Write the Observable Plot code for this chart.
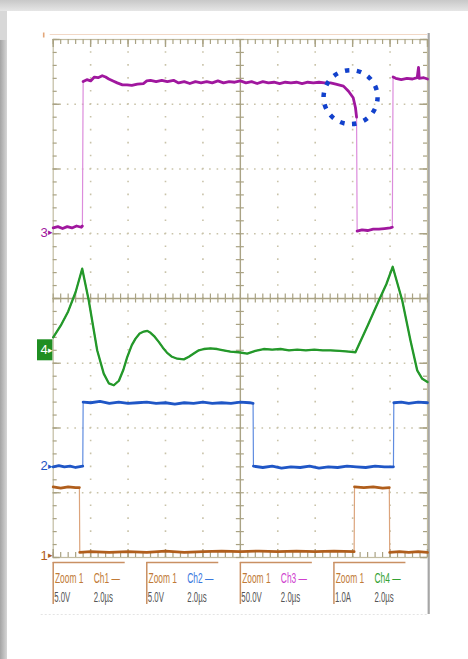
<!DOCTYPE html>
<html><head><meta charset="utf-8">
<script src="https://cdn.jsdelivr.net/npm/d3@7"></script>
<script src="https://cdn.jsdelivr.net/npm/@observablehq/plot@0.6"></script>
<style>
html,body{margin:0;padding:0;background:#fff;}
#wrap{position:relative;width:468px;height:659px;overflow:hidden;background:#fff;}
.bg{position:absolute;}
#chart{position:absolute;left:0;top:0;}
</style></head><body>
<div id="wrap">
<div class="bg" style="left:0;top:0;width:468px;height:11px;background:linear-gradient(#c8c8c8,#e6e6e6)"></div>
<div class="bg" style="left:0;top:11px;width:7px;height:29px;background:#d8d8d8"></div>
<div class="bg" style="left:0;top:40px;width:7px;height:619px;background:linear-gradient(to right,#a4a4a4,#d6d6d6)"></div>
<div id="chart"></div>
</div>
<script>
// ---- data (time in µs, 2.0 µs/div; vertical in screen divisions) ----
const ch1 = [[0,-2.91],[0.4,-2.93],[0.8,-2.91],[1.2,-2.92],[1.40,-2.92],[1.42,-3.92],[2.0,-3.91],[3.0,-3.92],[4.0,-3.91],[5.0,-3.92],[6.0,-3.90],[7.0,-3.92],[8.0,-3.91],[9.0,-3.90],[10.0,-3.91],[11.0,-3.90],[12.0,-3.91],[13.0,-3.90],[14.0,-3.91],[15.0,-3.90],[16.08,-3.91],[16.10,-2.91],[16.6,-2.92],[17.1,-2.91],[17.6,-2.93],[17.96,-2.92],[17.98,-3.92],[18.5,-3.91],[19.0,-3.92],[19.5,-3.91],[20,-3.92]];
const ch2 = [[0,-2.60],[0.3,-2.58],[0.6,-2.60],[0.9,-2.59],[1.2,-2.61],[1.58,-2.59],[1.60,-1.60],[2.0,-1.61],[2.5,-1.59],[3.0,-1.62],[3.5,-1.60],[4.0,-1.62],[4.5,-1.61],[5.0,-1.60],[5.5,-1.62],[6.0,-1.61],[6.5,-1.63],[7.0,-1.61],[7.5,-1.62],[8.0,-1.60],[8.5,-1.62],[9.0,-1.61],[9.5,-1.62],[10.0,-1.60],[10.5,-1.61],[10.68,-1.62],[10.70,-2.59],[11.2,-2.61],[11.7,-2.59],[12.2,-2.62],[12.7,-2.60],[13.2,-2.61],[13.7,-2.59],[14.2,-2.62],[14.7,-2.60],[15.2,-2.61],[15.7,-2.59],[16.2,-2.60],[16.7,-2.61],[17.2,-2.59],[17.7,-2.60],[18.18,-2.60],[18.20,-1.61],[18.6,-1.60],[19.0,-1.62],[19.5,-1.60],[20,-1.61]];
const ch3 = [[0,1.09],[0.25,1.11],[0.5,1.08],[0.75,1.11],[1.0,1.09],[1.25,1.12],[1.5,1.10],[1.56,1.12],[1.6,3.35],[1.8,3.38],[2.0,3.36],[2.2,3.42],[2.4,3.41],[2.62,3.44],[2.8,3.42],[2.97,3.39],[3.2,3.36],[3.42,3.33],[3.7,3.30],[3.95,3.30],[4.2,3.29],[4.5,3.31],[4.82,3.32],[5.0,3.36],[5.2,3.37],[5.5,3.35],[5.8,3.37],[6.1,3.35],[6.43,3.37],[6.7,3.33],[7.0,3.35],[7.3,3.32],[7.6,3.35],[7.9,3.33],[8.2,3.35],[8.5,3.33],[8.8,3.36],[9.1,3.33],[9.4,3.35],[9.7,3.34],[10.0,3.36],[10.3,3.33],[10.6,3.35],[10.9,3.32],[11.2,3.35],[11.5,3.33],[11.8,3.34],[12.1,3.32],[12.4,3.34],[12.7,3.33],[13.0,3.34],[13.3,3.32],[13.6,3.34],[13.9,3.33],[14.2,3.34],[14.5,3.33],[14.82,3.33],[15.1,3.31],[15.51,3.28],[15.78,3.20],[16.03,3.10],[16.15,2.95],[16.21,2.80],[16.24,1.04],[16.5,1.06],[16.8,1.05],[17.1,1.07],[17.4,1.07],[17.7,1.08],[18.0,1.09],[18.12,1.10],[18.16,3.42],[18.3,3.40],[18.6,3.38],[18.9,3.40],[19.2,3.39],[19.45,3.41],[19.52,3.57],[19.56,3.40],[19.8,3.41],[20,3.39]];
const ch4 = [[0,-0.60],[0.4,-0.42],[0.8,-0.20],[1.2,0.10],[1.55,0.46],[1.90,-0.03],[2.35,-0.80],[2.70,-1.16],[2.97,-1.31],[3.24,-1.34],[3.51,-1.27],[3.75,-1.10],[3.95,-0.91],[4.2,-0.72],[4.40,-0.62],[4.62,-0.54],[4.84,-0.51],[5.03,-0.50],[5.20,-0.53],[5.42,-0.59],[5.64,-0.67],[5.86,-0.76],[6.09,-0.84],[6.35,-0.90],[6.63,-0.93],[6.98,-0.94],[7.25,-0.90],[7.51,-0.85],[7.78,-0.80],[8.05,-0.78],[8.4,-0.77],[8.76,-0.78],[9.1,-0.80],[9.47,-0.82],[9.9,-0.83],[10.37,-0.85],[10.8,-0.81],[11.25,-0.78],[11.7,-0.79],[12.15,-0.78],[12.6,-0.80],[13.04,-0.79],[13.5,-0.80],[13.95,-0.79],[14.4,-0.80],[14.82,-0.80],[15.3,-0.81],[15.8,-0.82],[16.15,-0.83],[16.8,-0.42],[17.40,-0.03],[17.8,0.22],[18.14,0.49],[18.65,-0.03],[19.09,-0.65],[19.45,-1.11],[19.72,-1.24],[20,-1.29]];

const channelNames = ["Ch1","Ch2","Ch3","Ch4"];
const zoomLabels = ["Zoom 1","Zoom 1","Zoom 1","Zoom 1"];
const channelScales = ["5.0V","5.0V","50.0V","1.0A"];
const timeScales = ["2.0µs","2.0µs","2.0µs","2.0µs"];
const markerLabels = ["1","2","3","4"];
const markerLevels = [-3.97,-2.59,1.02,-0.80];
const highlight = [{t:15.89, v:3.11}];

// ---- styles ----
const traceColors = ["#b05e1c","#1f56c6","#a0179e","#24982a"];
const edgeColors  = ["#dca47c","#5f8ce0","#dc8cdc","#24982a"];
const labelColors = ["#c17a36","#3a78de","#cf3fcf","#33a233"];

// ---- layout ----
const W = 468, H = 659, mL = 52.7, mR = 41, mT = 39, mB = 102;
const kx = (W - mL - mR) / 20, ky = (H - mT - mB) / 8;
const ux = p => p / kx, uy = p => p / ky;
const minorT = d3.range(0, 20.0001, 0.4), majorT = d3.range(0, 20.0001, 2);
const minorV = d3.range(-4, 4.0001, 0.2), majorV = d3.range(-4, 4.0001, 1);
const tickC = "#a9a283", gridC = "#c9c3a9";
const narrow = 0.56;

function segments(arr){
  let s = 0;
  return arr.map((d,i) => {
    if (i > 0 && d[0]-arr[i-1][0] < 0.05 && Math.abs(d[1]-arr[i-1][1]) > 0.5) s++;
    return {t:d[0], v:d[1], s};
  });
}
const traces = [ch1,ch2,ch3,ch4].map(segments);
const markers = markerLabels.map((label,i) => ({label, level: markerLevels[i], color: traceColors[i], boxed: label === "4"}));
const boxes = channelNames.map((name,i) => ({name: name + " \u2014", zoom: zoomLabels[i], scale: channelScales[i], time: timeScales[i], t0: i*5, color: labelColors[i]}));

const boxTop = -4 - uy(5), boxBottom = -4 - uy(47), row1 = -4 - uy(20.5), row2 = -4 - uy(40.5);

const plot = Plot.plot({
  width: W, height: H,
  marginLeft: mL, marginRight: mR, marginTop: mT, marginBottom: mB,
  x: {domain: [0,20], axis: null},
  y: {domain: [-4,4], axis: null},
  color: {type: "identity"},
  style: {background: "transparent", overflow: "visible"},
  marks: [
    // scope image borders
    Plot.ruleY([4 + uy(5)], {x1: -ux(3), x2: 20, stroke: "#f2d8c6", strokeWidth: 1}),
    Plot.ruleX([-ux(9.5)], {y1: 4 + uy(1.5), y2: 4 + uy(6.5), stroke: "#e2a679", strokeWidth: 1.6}),
    Plot.ruleY([-4 - uy(57)], {x1: -ux(12), x2: 20, stroke: "#e4e4e4", strokeDasharray: "2 2"}),
    Plot.ruleX([20], {dx: 1.2, y1: 4 + uy(6), y2: -4 - uy(57), stroke: "#a6a6a6", strokeWidth: 2.2}),
    // graticule
    Plot.ruleX(majorT.filter(t => t > 0 && t < 20 && t !== 10), {stroke: gridC, strokeWidth: 1.6, strokeDasharray: `1.6 ${ky*0.2-1.6}`, strokeDashoffset: 0.8}),
    Plot.ruleY(majorV.filter(v => v > -4 && v < 4 && v !== 0), {stroke: gridC, strokeWidth: 1.6, strokeDasharray: `1.6 ${kx*0.4-1.6}`, strokeDashoffset: 0.8}),
    Plot.frame({stroke: "#c2bca2", strokeWidth: 1.2}),
    Plot.ruleX([10], {stroke: "#aaa385", strokeWidth: 1.4}),
    Plot.ruleY([0], {stroke: "#aaa385", strokeWidth: 1.4}),
    Plot.ruleX(minorT, {y1: 4, y2: 4 - uy(5), stroke: tickC, strokeWidth: 1.2}),
    Plot.ruleX(majorT, {y1: 4, y2: 4 - uy(8), stroke: tickC, strokeWidth: 1.4}),
    Plot.ruleX(minorT, {y1: -4, y2: -4 + uy(5), stroke: tickC, strokeWidth: 1.2}),
    Plot.ruleX(majorT, {y1: -4, y2: -4 + uy(8), stroke: tickC, strokeWidth: 1.4}),
    Plot.ruleX(minorT, {y1: -uy(4.5), y2: uy(4.5), stroke: tickC, strokeWidth: 1.2}),
    Plot.ruleY(minorV, {x1: 0, x2: ux(4), stroke: tickC, strokeWidth: 1.2}),
    Plot.ruleY(majorV, {x1: 0, x2: ux(7), stroke: tickC, strokeWidth: 1.4}),
    Plot.ruleY(minorV, {x1: 20 - ux(4), x2: 20, stroke: tickC, strokeWidth: 1.2}),
    Plot.ruleY(majorV, {x1: 20 - ux(7), x2: 20, stroke: tickC, strokeWidth: 1.4}),
    Plot.ruleY(minorV, {x1: 10 - ux(4), x2: 10 + ux(4), stroke: tickC, strokeWidth: 1.2}),
    // traces
    ...traces.flatMap((data,i) => [
      Plot.line(data, {x: "t", y: "v", stroke: edgeColors[i], strokeWidth: 1.2}),
      Plot.line(data, {x: "t", y: "v", z: "s", stroke: traceColors[i], strokeWidth: i === 3 ? 2.3 : 2.8})
    ]),
    // channel ground markers
    Plot.rect(markers.filter(d => d.boxed), {x1: -ux(15.7), x2: -ux(0.3), y1: d => d.level - uy(10.5), y2: d => d.level + uy(10.5), fill: "#1f8e22"}),
    Plot.text(markers, {x: 0, y: "level", text: "label", dx: -9, fill: d => d.boxed ? "#ffffff" : d.color, fontSize: 13, fontFamily: "Liberation Sans, sans-serif"}),
    Plot.text(markers, {x: 0, y: "level", text: () => "\u25B8", dx: -3, fill: d => d.boxed ? "#ffffff" : d.color, fontSize: 9}),
    // highlight circle
    Plot.dot(highlight, {x: "t", y: "v", r: 27, stroke: "#1241cc", strokeWidth: 4.5, strokeDasharray: "4.5 7.6", fill: "none"}),
    // readout boxes
    Plot.ruleY(boxes, {y: boxTop, x1: "t0", x2: d => d.t0 + ux(72), stroke: "#c99063", strokeWidth: 1.5}),
    Plot.ruleX(boxes, {x: "t0", y1: boxTop, y2: boxBottom, stroke: "#c99063", strokeWidth: 1.5}),
    Plot.text(boxes, {x: d => d.t0 + ux(1.8), y: row1, text: "zoom", textAnchor: "start", fill: "#c17a36", fontSize: 15, fontFamily: "Liberation Sans, sans-serif", ariaDescription: "narrow"}),
    Plot.text(boxes, {x: d => d.t0 + ux(40.5), y: row1, text: "name", textAnchor: "start", fill: "color", fontSize: 15, fontFamily: "Liberation Sans, sans-serif", ariaDescription: "narrow"}),
    Plot.text(boxes, {x: d => d.t0 + ux(1), y: row2, text: "scale", textAnchor: "start", fill: "#555555", fontSize: 14, fontFamily: "Liberation Sans, sans-serif", ariaDescription: "narrow"}),
    Plot.text(boxes, {x: d => d.t0 + ux(40.5), y: row2, text: "time", textAnchor: "start", fill: "#555555", fontSize: 14, fontFamily: "Liberation Sans, sans-serif", ariaDescription: "narrow"})
  ]
});
document.getElementById("chart").appendChild(plot);
// condensed scope font: squeeze the readout texts horizontally about their anchor
plot.querySelectorAll('g[aria-description="narrow"] text').forEach(el => {
  const tr = el.getAttribute("transform") || "";
  if (/translate/.test(tr)) {
    el.setAttribute("transform", tr + ` scale(${narrow},1)`);
  } else {
    const x = +el.getAttribute("x") || 0;
    el.setAttribute("transform", `translate(${x},0) scale(${narrow},1) translate(${-x},0)`);
  }
});
</script>
</body></html>
